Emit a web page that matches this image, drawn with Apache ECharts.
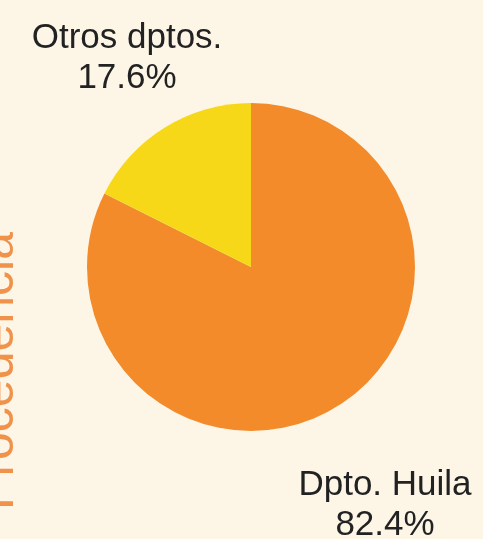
<!DOCTYPE html>
<html>
<head>
<meta charset="utf-8">
<script src="https://cdn.jsdelivr.net/npm/echarts@6/dist/echarts.min.js"></script>
<style>
html,body{margin:0;padding:0;background:#fdf6e7;}
#chart{width:483px;height:539px;}
</style>
</head>
<body>
<div id="chart"></div>
<script>
const categories = ['Dpto. Huila', 'Otros dptos.'];
const values = [82.4, 17.6];
const colors = ['#f38b2b', '#f7d819'];
const axisTitle = 'Procedencia';

const labelPos = [
  {x: 385, y: 505},
  {x: 127, y: 58}
];

const chart = echarts.init(document.getElementById('chart'), null, {renderer: 'canvas'});
chart.setOption({
  backgroundColor: '#fdf6e7',
  animation: false,
  graphic: [{
    type: 'text',
    left: -26,
    top: 232,
    rotation: Math.PI / 2,
    style: {
      text: axisTitle,
      fill: '#f0924a',
      font: '50px "Liberation Sans", Arial, sans-serif'
    }
  }],
  series: [{
    type: 'pie',
    center: [251, 267],
    radius: 164,
    startAngle: 90,
    clockwise: true,
    data: categories.map((c, i) => ({name: c, value: values[i], itemStyle: {color: colors[i]}})),
    label: {
      show: true,
      formatter: p => p.name + '\n' + p.value.toFixed(1) + '%',
      fontFamily: '"Liberation Sans", Arial, sans-serif',
      fontSize: 35,
      lineHeight: 40,
      color: '#222222',
      align: 'center',
      width: 300,
      overflow: 'none'
    },
    labelLine: {show: false},
    labelLayout: function (params) {
      const p = labelPos[params.dataIndex];
      return {x: p.x, y: p.y, align: 'center', verticalAlign: 'middle'};
    },
    emphasis: {disabled: true}
  }]
});
</script>
</body>
</html>
